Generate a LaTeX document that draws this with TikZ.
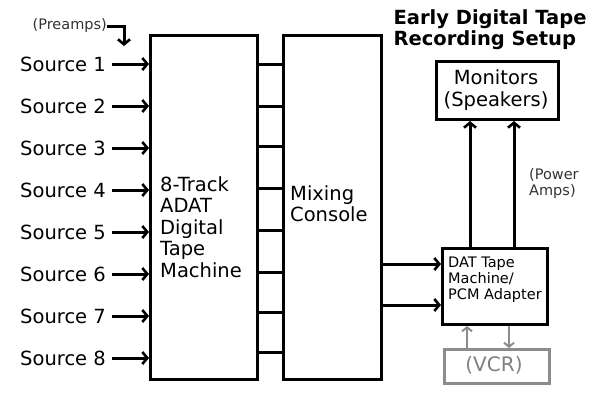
\documentclass[tikz,border=0pt]{standalone}
\usepackage{fontspec}
\setmainfont{DejaVu Sans}
\usetikzlibrary{arrows.meta}
\begin{document}
\begin{tikzpicture}[x=1pt,y=-1pt,
  box/.style={draw,line width=3pt,anchor=north west,inner sep=0pt},
  ln/.style={line width=3pt},
  arr/.style={line width=3pt,-{Straight Barb[length=5pt,width=12pt,line width=2.6pt]}},
  garr/.style={line width=2.4pt,draw=gray!90,-{Straight Barb[length=4pt,width=10pt,line width=2pt]}},
  src/.style={font=\fontsize{19.5}{22}\selectfont,anchor=east,inner sep=0pt},
  lbl/.style={align=left,anchor=north west,inner sep=0pt,font=\fontsize{19.5}{21.5}\selectfont}]
\useasboundingbox (0,0) rectangle (600,400);
\node[box,minimum width=107pt,minimum height=344pt] (adat) at (149,34) {};
\node[box,minimum width=98pt,minimum height=344pt] (mix) at (282,34) {};
\node[box,minimum width=122pt,minimum height=58pt] (mon) at (435,60) {};
\node[box,minimum width=105pt,minimum height=76pt] (dat) at (441,247) {};
\node[box,draw=gray!90,minimum width=105pt,minimum height=34pt] (vcr) at (443,348) {};
\node[lbl] (adatt) at (160,176) {8-Track\\ADAT\\Digital\\Tape\\Machine};
\node[lbl,font=\fontsize{19.5}{21}\selectfont] (mixt) at (290,185) {Mixing\\Console};
\node[align=center,inner sep=0pt,font=\fontsize{19.5}{22}\selectfont] (mont) at (496,90) {Monitors\\(Speakers)};
\node[lbl,font=\fontsize{14.5}{16}\selectfont] (datt) at (448,257) {DAT Tape\\Machine/\\PCM Adapter};
\node[inner sep=0pt,text=gray,font=\fontsize{20}{22}\selectfont] (vcrt) at (494,365) {(VCR)};
\node[align=left,inner sep=0pt,font=\bfseries\fontsize{19.5}{21}\selectfont] (title) at (490,30) {Early Digital Tape\\Recording Setup};
\node[lbl,font=\fontsize{14.5}{16}\selectfont,text=black!80] (pa) at (529,168) {(Power\\Amps)};
\node[inner sep=0pt,font=\fontsize{14.5}{16}\selectfont,text=black!80,anchor=east] (pre) at (107,26) {(Preamps)};
\coordinate (pc) at (124,26);
\draw[arr] (pre.east) -- (pc) -- (124,46);
\foreach \i/\y in {1/64,2/106,3/148,4/190,5/232,6/274,7/316,8/358}{
  \node[src] (s\i) at (106,\y) {Source \i};
  \draw[arr] (s\i.east) ++(6,0) -- (adat.west |- 0,\y);
}
\foreach \y in {64,106,146,188,230,272,312,352}
  \draw[ln] (adat.east |- 0,\y) -- (mix.west |- 0,\y);
\draw[arr] (mix.east |- 0,264) -- (dat.west |- 0,264);
\draw[arr] (mix.east |- 0,305) -- (dat.west |- 0,305);
\draw[arr] (dat.north -| 470,0) -- (mon.south -| 470,0);
\draw[arr] (dat.north -| 514,0) -- (mon.south -| 514,0);
\draw[garr] (vcr.north -| 467,0) -- (dat.south -| 467,0);
\draw[garr] (dat.south -| 509,0) -- (vcr.north -| 509,0);
\end{tikzpicture}
\end{document}
